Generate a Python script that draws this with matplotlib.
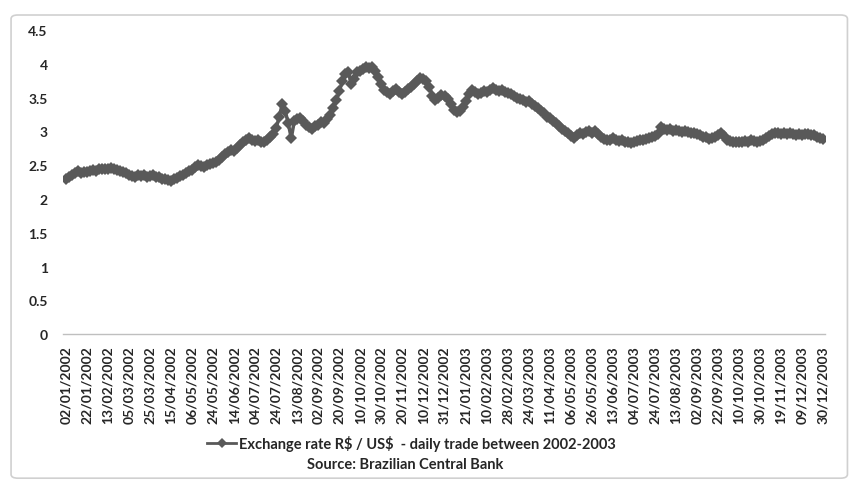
import matplotlib.pyplot as plt
from matplotlib.patches import FancyBboxPatch

plt.rcParams["font.family"] = ["Lato", "DejaVu Sans"]

# tick labels, one every 14 trading days
tick_labels = [
    "02/01/2002", "22/01/2002", "13/02/2002", "05/03/2002", "25/03/2002",
    "15/04/2002", "06/05/2002", "24/05/2002", "14/06/2002", "04/07/2002",
    "24/07/2002", "13/08/2002", "02/09/2002", "20/09/2002", "10/10/2002",
    "30/10/2002", "20/11/2002", "10/12/2002", "31/12/2002", "21/01/2003",
    "10/02/2003", "28/02/2003", "24/03/2003", "11/04/2003", "06/05/2003",
    "26/05/2003", "13/06/2003", "04/07/2003", "24/07/2003", "13/08/2003",
    "02/09/2003", "22/09/2003", "10/10/2003", "30/10/2003", "19/11/2003",
    "09/12/2003", "30/12/2003",
]
days_per_tick = 14
sample_step = 2  # one reading every second trading day

# R$ / US$ readings, 7 per tick interval
rate_2002 = [
    2.30, 2.32, 2.35, 2.38, 2.41, 2.39, 2.40,
    2.40, 2.42, 2.43, 2.42, 2.44, 2.45, 2.44,
    2.45, 2.46, 2.44, 2.43, 2.42, 2.40, 2.38,
    2.36, 2.34, 2.33, 2.35, 2.34, 2.35, 2.33,
    2.34, 2.35, 2.33, 2.32, 2.30, 2.29, 2.28,
    2.27, 2.29, 2.31, 2.34, 2.36, 2.38, 2.41,
    2.43, 2.47, 2.51, 2.49, 2.47, 2.50, 2.52,
    2.53, 2.55, 2.58, 2.62, 2.66, 2.70, 2.73,
    2.71, 2.76, 2.80, 2.84, 2.87, 2.90, 2.88,
    2.86, 2.87, 2.84, 2.85, 2.88, 2.92, 2.96,
    3.05, 3.22, 3.40, 3.30, 3.12, 2.90, 3.15,
    3.18, 3.20, 3.16, 3.10, 3.06, 3.03, 3.08,
    3.10, 3.14, 3.12, 3.18, 3.24, 3.35, 3.46,
    3.60, 3.74, 3.85, 3.88, 3.70, 3.78, 3.88,
    3.90, 3.92, 3.95, 3.94, 3.96, 3.90, 3.80,
    3.70, 3.62, 3.58, 3.55, 3.60, 3.63, 3.58,
    3.55, 3.58, 3.63, 3.66, 3.70, 3.75, 3.79,
    3.78, 3.75, 3.66, 3.52, 3.46, 3.50, 3.54,
]
rate_2003 = [
    3.53, 3.48, 3.40, 3.32, 3.28, 3.30, 3.36,
    3.45, 3.55, 3.62, 3.58, 3.55, 3.57, 3.60,
    3.58, 3.62, 3.64, 3.62, 3.60, 3.61, 3.59,
    3.57, 3.55, 3.53, 3.50, 3.48, 3.47, 3.44,
    3.45, 3.40, 3.38, 3.35, 3.30, 3.27, 3.22,
    3.20, 3.16, 3.12, 3.08, 3.03, 3.00, 2.97,
    2.93, 2.90, 2.94, 2.98, 2.96, 2.99, 3.01,
    2.98, 3.00, 2.96, 2.92, 2.89, 2.87, 2.88,
    2.90, 2.88, 2.86, 2.87, 2.85, 2.84, 2.83,
    2.84, 2.86, 2.88, 2.87, 2.89, 2.90, 2.92,
    2.93, 2.96, 3.06, 3.04, 3.02, 3.03, 3.01,
    3.02, 3.00, 2.99, 3.01, 2.99, 2.97, 2.98,
    2.96, 2.94, 2.92, 2.91, 2.89, 2.90, 2.92,
    2.95, 2.97, 2.93, 2.88, 2.86, 2.85, 2.84,
    2.85, 2.84, 2.86, 2.85, 2.87, 2.86, 2.85,
    2.86, 2.87, 2.90, 2.93, 2.96, 2.97, 2.97,
    2.96, 2.97, 2.96, 2.97, 2.96, 2.95, 2.96,
    2.95, 2.96, 2.96, 2.95, 2.94, 2.92, 2.90,
    2.89,
]

rates = rate_2002 + rate_2003
positions = [i * sample_step for i in range(len(rates))]
tick_positions = [i * days_per_tick for i in range(len(tick_labels))]

text_color = "#262626"

fig = plt.figure(figsize=(8.5, 4.85), dpi=100)
fig.patches.append(FancyBboxPatch(
    (0.013, 0.012), 0.984, 0.955, boxstyle="round,pad=0,rounding_size=0.008",
    transform=fig.transFigure, facecolor="white", edgecolor="#d0d0d0",
    linewidth=1.2, zorder=-1,
))

ax = fig.add_axes([0.074, 0.309, 0.897, 0.627])
ax.set_facecolor("none")
series_color = "#595959"
ax.plot(positions, rates, color=series_color, linewidth=2.5, marker="D",
        markersize=6.5, markeredgewidth=0,
        label="Exchange rate R\\$ / US\\$  - daily trade between 2002-2003")

ax.set_ylim(0, 4.5)
ax.set_yticks([0, 0.5, 1, 1.5, 2, 2.5, 3, 3.5, 4, 4.5])
ax.set_yticklabels(["0", "0.5", "1", "1.5", "2", "2.5", "3", "3.5", "4", "4.5"])
ax.set_xlim(-2, 505.5)
ax.set_xticks(tick_positions)
ax.set_xticklabels(tick_labels, rotation=90)
ax.tick_params(axis="both", length=0, labelsize=10, colors=text_color)
ax.tick_params(axis="y", pad=11)
ax.tick_params(axis="x", pad=8)
for lab in ax.get_xticklabels() + ax.get_yticklabels():
    lab.set_fontweight("bold")

for side in ("top", "right", "left"):
    ax.spines[side].set_visible(False)
ax.spines["bottom"].set_color("#bfbfbf")
ax.spines["bottom"].set_linewidth(1)

leg = fig.legend(loc="center", bbox_to_anchor=(0.484, 0.085), frameon=False,
                 prop={"size": 10.5, "weight": "bold"}, handlelength=2.0,
                 handletextpad=0.2, labelcolor=text_color)
for line in leg.get_lines():
    line.set_linewidth(2)
    line.set_markersize(5)
fig.text(0.477, 0.041, "Source: Brazilian Central Bank", ha="center",
         va="center", fontsize=10.5, fontweight="bold", color=text_color)

fig.savefig("out.png", dpi=100)
